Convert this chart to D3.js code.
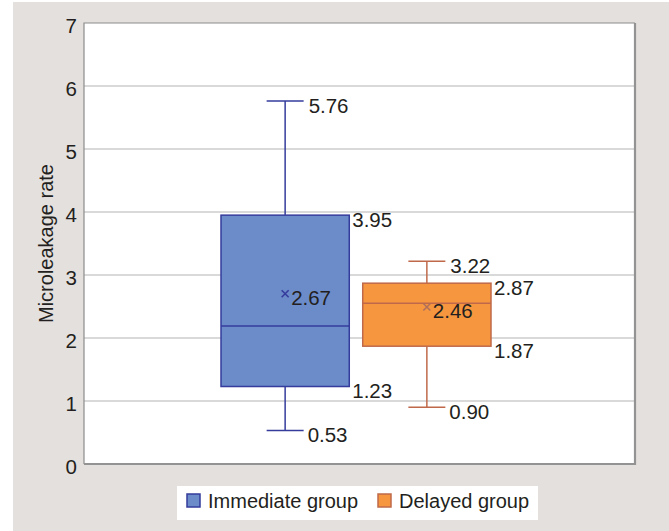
<!DOCTYPE html>
<html>
<head>
<meta charset="utf-8">
<script src="https://cdn.jsdelivr.net/npm/d3@7"></script>
<style>
  body { margin: 0; background: #fff; }
  text { font-family: "Liberation Sans", Arial, sans-serif; fill: #231f20; }
</style>
</head>
<body>
<script>
// values
var groups = ["Immediate group", "Delayed group"];
var mins = [0.53, 0.90];
var q1s = [1.23, 1.87];
var medians = [2.19, 2.55];
var q3s = [3.95, 2.87];
var maxs = [5.76, 3.22];
var means = [2.67, 2.46];
var yTicks = [0, 1, 2, 3, 4, 5, 6, 7];

var fills = ["#6b8bc9", "#f6973f"];
var strokes = ["#353c9c", "#c0694a"];
var markColors = ["#353c9c", "#b0705a"];

var svgWidth = 669, svgHeight = 531;
var plot = { left: 84, top: 23, right: 635, bottom: 464 };

var svg = d3.select("body").append("svg")
    .attr("width", svgWidth)
    .attr("height", svgHeight);

// grey panel behind everything
svg.append("rect")
    .attr("x", 13).attr("y", 2)
    .attr("width", svgWidth - 13).attr("height", svgHeight - 2)
    .attr("fill", "#e4e0de");

svg.append("rect")
    .attr("x", plot.left).attr("y", plot.top)
    .attr("width", plot.right - plot.left).attr("height", plot.bottom - plot.top)
    .attr("fill", "#fff");

var y = d3.scaleLinear().domain([0, 7]).range([plot.bottom, plot.top]);
var x = d3.scaleBand().domain(groups).range([221, 491]).paddingInner(0.095);

// gridlines
svg.append("g").selectAll("line")
    .data(yTicks.slice(1, -1))
    .enter().append("line")
    .attr("x1", plot.left).attr("x2", plot.right)
    .attr("y1", d => y(d)).attr("y2", d => y(d))
    .attr("stroke", "#b3b3b3").attr("stroke-width", 1.2);

// frame: thin grey top/left, heavier right/bottom
svg.append("path")
    .attr("d", `M${plot.left},${plot.bottom}V${plot.top}H${plot.right}`)
    .attr("fill", "none").attr("stroke", "#8c8c8c").attr("stroke-width", 1.2);
svg.append("path")
    .attr("d", `M${plot.right},${plot.top}V${plot.bottom}H${plot.left}`)
    .attr("fill", "none").attr("stroke", "#939393").attr("stroke-width", 2.2);

// y axis
var yAxis = svg.append("g")
    .attr("transform", `translate(${plot.left},0)`)
    .call(d3.axisLeft(y).tickValues(yTicks).tickFormat(d3.format("d")).tickSize(0).tickPadding(7));
yAxis.select(".domain").remove();
yAxis.selectAll("text")
    .style("font-size", "20.5px")
    .attr("dy", "0.45em")
    .style("fill", "#231f20");

svg.append("text")
    .attr("transform", `translate(53,${(plot.top + plot.bottom) / 2}) rotate(-90)`)
    .attr("text-anchor", "middle")
    .style("font-size", "20px")
    .text("Microleakage rate");

// box plots
var capW = 37;
groups.forEach(function(g, i) {
    var x0 = x(g), bw = x.bandwidth(), cx = x0 + bw / 2;
    var gr = svg.append("g");
    var st = strokes[i];

    gr.append("line").attr("x1", cx).attr("x2", cx)
        .attr("y1", y(maxs[i])).attr("y2", y(q3s[i]))
        .attr("stroke", st).attr("stroke-width", 1.5);
    gr.append("line").attr("x1", cx).attr("x2", cx)
        .attr("y1", y(q1s[i])).attr("y2", y(mins[i]))
        .attr("stroke", st).attr("stroke-width", 1.5);
    [maxs[i], mins[i]].forEach(function(v) {
        gr.append("line").attr("x1", cx - capW / 2).attr("x2", cx + capW / 2)
            .attr("y1", y(v)).attr("y2", y(v))
            .attr("stroke", st).attr("stroke-width", 1.5);
    });

    gr.append("rect")
        .attr("x", x0).attr("y", y(q3s[i]))
        .attr("width", bw).attr("height", y(q1s[i]) - y(q3s[i]))
        .attr("fill", fills[i]).attr("stroke", st).attr("stroke-width", 1.5);
    gr.append("line").attr("x1", x0).attr("x2", x0 + bw)
        .attr("y1", y(medians[i])).attr("y2", y(medians[i]))
        .attr("stroke", st).attr("stroke-width", 1.5);

    // mean marker
    var my = y(means[i]) - 2, s = 3.5;
    gr.append("path")
        .attr("d", `M${cx - s},${my - s}L${cx + s},${my + s}M${cx - s},${my + s}L${cx + s},${my - s}`)
        .attr("stroke", markColors[i]).attr("stroke-width", 1.6);

    var labels = [
        { v: maxs[i], lx: cx + capW / 2 + 5 },
        { v: q3s[i], lx: x0 + bw + 3 },
        { v: q1s[i], lx: x0 + bw + 3 },
        { v: mins[i], lx: cx + capW / 2 + 4 },
        { v: means[i], lx: cx + 6, ly: my }
    ];
    labels.forEach(function(l) {
        gr.append("text")
            .attr("x", l.lx)
            .attr("y", (l.ly !== undefined ? l.ly : y(l.v)) + 4)
            .attr("dy", "0.36em")
            .style("font-size", "20.5px")
            .text(l.v.toFixed(2));
    });
});

// legend
var legend = svg.append("g");
legend.append("rect")
    .attr("x", 177).attr("y", 486).attr("width", 361).attr("height", 34)
    .attr("fill", "#fff");
var legX = [187, 378];
groups.forEach(function(g, i) {
    legend.append("rect")
        .attr("x", legX[i]).attr("y", 494).attr("width", 13).attr("height", 13)
        .attr("fill", fills[i]).attr("stroke", strokes[i]).attr("stroke-width", 1.5);
    legend.append("text")
        .attr("x", legX[i] + 21).attr("y", 501)
        .attr("dy", "0.36em")
        .style("font-size", "20px")
        .text(g);
});
</script>
</body>
</html>
